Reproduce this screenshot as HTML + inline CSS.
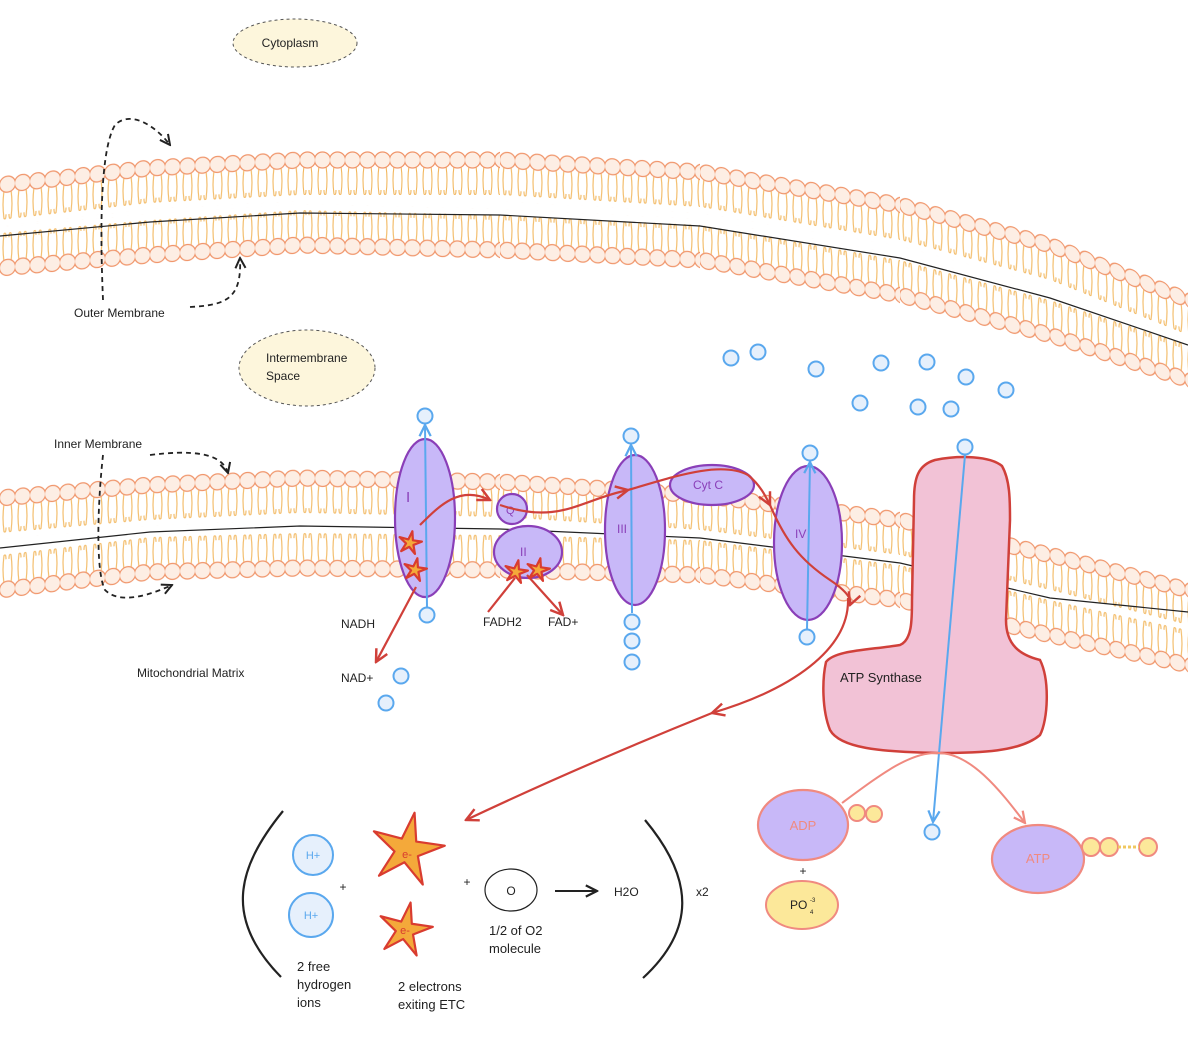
<!DOCTYPE html>
<html><head><meta charset="utf-8"><style>
html,body{margin:0;padding:0;background:#fff}
svg{display:block}
text{font-family:"Liberation Sans",sans-serif}
</style></head><body>
<svg width="1188" height="1038" viewBox="0 0 1188 1038" xmlns="http://www.w3.org/2000/svg">
<defs>
<marker id="ar" viewBox="0 0 10 10" refX="9" refY="5" markerWidth="7" markerHeight="7" orient="auto"><path d="M1,1 L9,5 L1,9" fill="none" stroke="#d0403a" stroke-width="1.6"/></marker>
<marker id="ab" viewBox="0 0 10 10" refX="9" refY="5" markerWidth="7" markerHeight="7" orient="auto"><path d="M1,1 L9,5 L1,9" fill="none" stroke="#5aa8ee" stroke-width="1.6"/></marker>
<marker id="ak" viewBox="0 0 10 10" refX="9" refY="5" markerWidth="7" markerHeight="7" orient="auto"><path d="M1,1 L9,5 L1,9" fill="none" stroke="#222" stroke-width="1.6"/></marker>
<marker id="as" viewBox="0 0 10 10" refX="9" refY="5" markerWidth="7" markerHeight="7" orient="auto"><path d="M1,1 L9,5 L1,9" fill="none" stroke="#f08a80" stroke-width="1.6"/></marker>
<pattern id="lt" patternUnits="userSpaceOnUse" x="0" y="-9" width="15" height="50">
<path d="M4,15 q-2,14 0,28 q2,2 2,-4 M11,15 q2,14 0,28 q-2,2 -2,-4" stroke="#f2b860" stroke-width="1.1" fill="none"/>
<circle cx="7.5" cy="9" r="8" fill="#fdeee4" stroke="#f0956a" stroke-width="1.2"/>
</pattern>
<pattern id="lb" patternUnits="userSpaceOnUse" x="0" y="-41" width="15" height="50">
<path d="M4,35 q-2,-14 0,-28 q2,-2 2,4 M11,35 q2,-14 0,-28 q-2,-2 -2,4" stroke="#f2b860" stroke-width="1.1" fill="none"/>
<circle cx="7.5" cy="41" r="8" fill="#fdeee4" stroke="#f0956a" stroke-width="1.2"/>
</pattern>
<g id="st"><path d="M.199,-.98 L.243,-.223 L.994,-.113 L.287,.162 L.415,.91 L-.066,.323 L-.737,.676 L-.328,.037 L-.87,-.492 L-.137,-.3 Z" fill="#f4a93a" stroke="#d93c30" stroke-width="2.2" stroke-linejoin="round" vector-effect="non-scaling-stroke"/></g>
</defs>

<g>
<rect x="0" y="-9" width="150" height="50" fill="url(#lt)" transform="matrix(1,-0.1133,0,1,0,185)"/>
<rect x="0" y="-9" width="150" height="50" fill="url(#lt)" transform="matrix(1,-0.0533,0,1,150,168)"/>
<rect x="0" y="-9" width="200" height="50" fill="url(#lt)" transform="matrix(1,0,0,1,300,160)"/>
<rect x="0" y="-9" width="200" height="50" fill="url(#lt)" transform="matrix(1,0.06,0,1,500,160)"/>
<rect x="0" y="-9" width="200" height="50" fill="url(#lt)" transform="matrix(1,0.165,0,1,700,172)"/>
<rect x="0" y="-9" width="150" height="50" fill="url(#lt)" transform="matrix(1,0.2667,0,1,900,205)"/>
<rect x="0" y="-9" width="138" height="50" fill="url(#lt)" transform="matrix(1,0.3986,0,1,1050,245)"/>
</g>
<g>
<rect x="0" y="-41" width="150" height="50" fill="url(#lb)" transform="matrix(1,-0.0867,0,1,0,268)"/>
<rect x="0" y="-41" width="150" height="50" fill="url(#lb)" transform="matrix(1,-0.0667,0,1,150,255)"/>
<rect x="0" y="-41" width="200" height="50" fill="url(#lb)" transform="matrix(1,0.025,0,1,300,245)"/>
<rect x="0" y="-41" width="200" height="50" fill="url(#lb)" transform="matrix(1,0.05,0,1,500,250)"/>
<rect x="0" y="-41" width="200" height="50" fill="url(#lb)" transform="matrix(1,0.175,0,1,700,260)"/>
<rect x="0" y="-41" width="150" height="50" fill="url(#lb)" transform="matrix(1,0.2667,0,1,900,295)"/>
<rect x="0" y="-41" width="138" height="50" fill="url(#lb)" transform="matrix(1,0.3261,0,1,1050,335)"/>
</g>
<path d="M0,236 L150,222 L300,213 L500,215 L700,226 L900,258 L1050,298 L1188,345" fill="none" stroke="#222" stroke-width="1.2"/>

<g>
<rect x="0" y="-9" width="150" height="50" fill="url(#lt)" transform="matrix(1,-0.0867,0,1,0,498)"/>
<rect x="0" y="-9" width="150" height="50" fill="url(#lt)" transform="matrix(1,-0.0467,0,1,150,485)"/>
<rect x="0" y="-9" width="200" height="50" fill="url(#lt)" transform="matrix(1,0.02,0,1,300,478)"/>
<rect x="0" y="-9" width="200" height="50" fill="url(#lt)" transform="matrix(1,0.065,0,1,500,482)"/>
<rect x="0" y="-9" width="200" height="50" fill="url(#lt)" transform="matrix(1,0.125,0,1,700,495)"/>
<rect x="0" y="-9" width="150" height="50" fill="url(#lt)" transform="matrix(1,0.2333,0,1,900,520)"/>
<rect x="0" y="-9" width="138" height="50" fill="url(#lt)" transform="matrix(1,0.2536,0,1,1050,555)"/>
</g>
<g>
<rect x="0" y="-41" width="150" height="50" fill="url(#lb)" transform="matrix(1,-0.12,0,1,0,590)"/>
<rect x="0" y="-41" width="150" height="50" fill="url(#lb)" transform="matrix(1,-0.0267,0,1,150,572)"/>
<rect x="0" y="-41" width="200" height="50" fill="url(#lb)" transform="matrix(1,0.01,0,1,300,568)"/>
<rect x="0" y="-41" width="200" height="50" fill="url(#lb)" transform="matrix(1,0.025,0,1,500,570)"/>
<rect x="0" y="-41" width="200" height="50" fill="url(#lb)" transform="matrix(1,0.125,0,1,700,575)"/>
<rect x="0" y="-41" width="150" height="50" fill="url(#lb)" transform="matrix(1,0.2333,0,1,900,600)"/>
<rect x="0" y="-41" width="138" height="50" fill="url(#lb)" transform="matrix(1,0.2174,0,1,1050,635)"/>
</g>
<path d="M0,548 L150,532 L300,526 L500,529 L700,538 L900,563 L1050,598 L1188,612" fill="none" stroke="#222" stroke-width="1.2"/>

<ellipse cx="295" cy="43" rx="62" ry="24" fill="#fdf6dc" stroke="#555" stroke-dasharray="3 3"/>
<text x="290" y="47" font-size="12" text-anchor="middle" fill="#222">Cytoplasm</text>
<ellipse cx="307" cy="368" rx="68" ry="38" fill="#fdf6dc" stroke="#555" stroke-dasharray="3 3"/>
<text x="266" y="362" font-size="12" fill="#222">Intermembrane</text>
<text x="266" y="380" font-size="12" fill="#222">Space</text>
<text x="74" y="317" font-size="12" fill="#222">Outer Membrane</text>
<text x="54" y="448" font-size="12" fill="#222">Inner Membrane</text>
<text x="137" y="677" font-size="12" fill="#222">Mitochondrial Matrix</text>
<g fill="none" stroke="#222" stroke-width="1.8" stroke-dasharray="5 4">
<path d="M103,300 C100,230 100,150 115,125 C130,110 155,125 170,145" marker-end="url(#ak)"/>
<path d="M190,307 C225,305 242,300 240,258" marker-end="url(#ak)"/>
<path d="M150,455 C190,450 222,452 228,473" marker-end="url(#ak)"/>
<path d="M103,455 C98,500 95,570 105,590 C120,605 150,595 172,585" marker-end="url(#ak)"/>
</g>

<g fill="#c8b8f8" stroke="#8a3fb8" stroke-width="2.2">
<ellipse cx="425" cy="518" rx="30" ry="79"/>
<circle cx="512" cy="509" r="15"/>
<ellipse cx="528" cy="552" rx="34" ry="26"/>
<ellipse cx="635" cy="530" rx="30" ry="75"/>
<ellipse cx="712" cy="485" rx="42" ry="20"/>
<ellipse cx="808" cy="543" rx="34" ry="77"/>
</g>
<g fill="#8a3fb8" font-size="13">
<text x="406" y="502" font-size="15">I</text>
<text x="506" y="514" font-size="11">Q</text>
<text x="520" y="556" font-size="12">II</text>
<text x="617" y="533" font-size="12">III</text>
<text x="693" y="489" font-size="12">Cyt C</text>
<text x="795" y="538" font-size="12">IV</text>
</g>
<path d="M935,460 C960,455 990,456 1002,466 C1010,480 1010,500 1010,520 L1006,620 C1006,645 1020,655 1040,660 C1050,680 1048,720 1040,735 C1020,752 980,753 937,753 C880,752 840,748 830,730 C822,710 822,680 826,662 C835,650 870,650 900,645 C912,640 912,620 912,600 L914,500 C914,478 918,465 935,460 Z" fill="#f2c2d6" stroke="#d0403a" stroke-width="2.5"/>
<text x="840" y="682" font-size="13" fill="#222">ATP Synthase</text>
<g stroke="#5aa8ee" stroke-width="2" fill="none">
<line x1="427" y1="607" x2="425" y2="425" marker-end="url(#ab)"/>
<line x1="632" y1="613" x2="631" y2="445" marker-end="url(#ab)"/>
<line x1="807" y1="630" x2="810" y2="462" marker-end="url(#ab)"/>
<line x1="965" y1="455" x2="933" y2="822" marker-end="url(#ab)"/>
</g>
<g fill="#e6f0fc" stroke="#5aa8ee" stroke-width="2">
<circle cx="731" cy="358" r="7.5"/><circle cx="758" cy="352" r="7.5"/><circle cx="816" cy="369" r="7.5"/><circle cx="881" cy="363" r="7.5"/><circle cx="927" cy="362" r="7.5"/><circle cx="966" cy="377" r="7.5"/><circle cx="1006" cy="390" r="7.5"/><circle cx="860" cy="403" r="7.5"/><circle cx="918" cy="407" r="7.5"/><circle cx="951" cy="409" r="7.5"/><circle cx="401" cy="676" r="7.5"/><circle cx="386" cy="703" r="7.5"/><circle cx="632" cy="622" r="7.5"/><circle cx="632" cy="641" r="7.5"/><circle cx="632" cy="662" r="7.5"/><circle cx="807" cy="637" r="7.5"/><circle cx="427" cy="615" r="7.5"/><circle cx="425" cy="416" r="7.5"/><circle cx="631" cy="436" r="7.5"/><circle cx="810" cy="453" r="7.5"/><circle cx="965" cy="447" r="7.5"/><circle cx="932" cy="832" r="7.5"/>
</g>
<g fill="none" stroke="#d0403a" stroke-width="2.2">
<path d="M420,525 C440,505 460,485 490,500" marker-end="url(#ar)"/>
<path d="M500,505 C560,525 580,500 628,490" marker-end="url(#ar)"/>
<path d="M628,490 C670,478 720,460 748,475 C760,485 765,495 770,505" marker-end="url(#ar)"/>
<path d="M770,505 C785,540 800,560 830,580 C848,592 852,600 850,605" marker-end="url(#ar)"/>
<path d="M848,598 C850,650 790,690 712,713" marker-end="url(#ar)"/>
<path d="M712,713 C620,750 540,785 466,820" marker-end="url(#ar)"/>
<path d="M416,587 L376,662" marker-end="url(#ar)"/>
<path d="M527,575 L563,615" marker-end="url(#ar)"/>
<path d="M515,578 L488,612"/>
</g>
<use href="#st" transform="translate(410,543) scale(12)"/>
<use href="#st" transform="translate(415,570) scale(12)"/>
<use href="#st" transform="translate(516,572) scale(12)"/>
<use href="#st" transform="translate(538,570) scale(12)"/>
<use href="#st" transform="translate(407,850) scale(38)"/>
<use href="#st" transform="translate(405,930) scale(28)"/>
<text x="407" y="858" font-size="11" text-anchor="middle" fill="#d93c30">e-</text>
<text x="405" y="934" font-size="11" text-anchor="middle" fill="#d93c30">e-</text>
<g font-size="12" fill="#222">
<text x="341" y="628">NADH</text>
<text x="341" y="682">NAD+</text>
<text x="483" y="626">FADH2</text>
<text x="548" y="626">FAD+</text>
</g>
<g fill="none" stroke="#f08a80" stroke-width="2">
<path d="M842,803 C880,775 910,752 937,753"/>
<path d="M937,753 C970,752 1000,790 1025,823" marker-end="url(#as)"/>
</g>
<ellipse cx="803" cy="825" rx="45" ry="35" fill="#c8b8f8" stroke="#f08a80" stroke-width="2.2"/>
<text x="803" y="830" font-size="13" fill="#f08a80" text-anchor="middle">ADP</text>
<g fill="#fce89a" stroke="#f08a80" stroke-width="2">
<circle cx="857" cy="813" r="8"/><circle cx="874" cy="814" r="8"/>
<circle cx="1091" cy="847" r="9"/><circle cx="1109" cy="847" r="9"/><circle cx="1148" cy="847" r="9"/>
</g>
<line x1="1118" y1="847" x2="1139" y2="847" stroke="#f0c860" stroke-width="3" stroke-dasharray="3 2"/>
<ellipse cx="1038" cy="859" rx="46" ry="34" fill="#c8b8f8" stroke="#f08a80" stroke-width="2.2"/>
<text x="1038" y="863" font-size="13" fill="#f08a80" text-anchor="middle">ATP</text>
<text x="803" y="875" font-size="12" fill="#222" text-anchor="middle">+</text>
<ellipse cx="802" cy="905" rx="36" ry="24" fill="#fce89a" stroke="#f08a80" stroke-width="2"/>
<text x="790" y="909" font-size="12" fill="#222">PO</text>
<text x="810" y="902" font-size="6" fill="#222">-3</text>
<text x="810" y="914" font-size="6" fill="#222">4</text>
<g fill="none" stroke="#222" stroke-width="2.2">
<path d="M283,811 C235,870 225,920 281,977"/>
<path d="M645,820 C695,880 695,930 643,978"/>
</g>
<circle cx="313" cy="855" r="20" fill="#e6f0fc" stroke="#5aa8ee" stroke-width="2"/>
<text x="313" y="859" font-size="11" fill="#5aa8ee" text-anchor="middle">H+</text>
<circle cx="311" cy="915" r="22" fill="#e6f0fc" stroke="#5aa8ee" stroke-width="2"/>
<text x="311" y="919" font-size="11" fill="#5aa8ee" text-anchor="middle">H+</text>
<text x="343" y="891" font-size="12" fill="#222" text-anchor="middle">+</text>
<text x="467" y="886" font-size="12" fill="#222" text-anchor="middle">+</text>
<ellipse cx="511" cy="890" rx="26" ry="21" fill="#fff" stroke="#222" stroke-width="1.2"/>
<text x="511" y="895" font-size="12" fill="#222" text-anchor="middle">O</text>
<line x1="555" y1="891" x2="597" y2="891" stroke="#222" stroke-width="2" marker-end="url(#ak)"/>
<text x="614" y="896" font-size="12" fill="#222">H2O</text>
<text x="696" y="896" font-size="12" fill="#222">x2</text>
<g font-size="13" fill="#222">
<text x="297" y="971">2 free</text><text x="297" y="989">hydrogen</text><text x="297" y="1007">ions</text>
<text x="398" y="991">2 electrons</text><text x="398" y="1009">exiting ETC</text>
<text x="489" y="935">1/2 of O2</text><text x="489" y="953">molecule</text>
</g>
</svg>
</body></html>
